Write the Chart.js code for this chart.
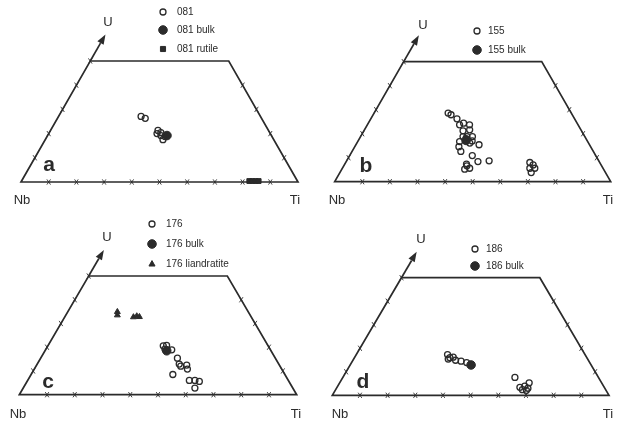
<!DOCTYPE html>
<html lang="en">
<head>
<meta charset="UTF-8">
<title>U - Nb - Ti</title>
<style>
  body { margin: 0; background: #fff; }
  canvas { position: absolute; }
</style>
</head>
<body>
<canvas id="pa" width="313" height="212" style="left:0;top:0"></canvas>
<canvas id="pb" width="314" height="212" style="left:313px;top:0"></canvas>
<canvas id="pc" width="313" height="213" style="left:0;top:212px"></canvas>
<canvas id="pd" width="314" height="213" style="left:313px;top:212px"></canvas>

<script src="https://cdn.jsdelivr.net/npm/chart.js"></script>
<script>
// compositions in percent: U and Ti (Nb is the rest)
const s081U = [27.1, 26.3, 21.3, 20.4, 20.0, 19.2, 17.5, 18.8];
const s081Ti = [29.8, 31.7, 38.8, 40.3, 39.1, 40.9, 42.5, 42.6];
const s081BulkU = [19.2];
const s081BulkTi = [43.1];
const s081RutileU = [0.4, 0.4, 0.4, 0.4];
const s081RutileTi = [82.2, 83.3, 84.5, 85.6];

const s155U = [28.6, 27.9, 26.2, 23.7, 24.4, 23.7, 21.6, 21.2, 18.8, 18.8, 18.8, 17.9, 17.0, 16.7, 16.1, 14.6, 15.4, 12.6, 10.9, 8.4, 8.7, 7.3, 6.6, 5.2, 5.6, 8.0, 7.0, 5.6, 5.6, 3.8];
const s155Ti = [26.8, 28.2, 31.2, 33.4, 34.5, 37.0, 38.1, 35.9, 37.1, 38.5, 40.5, 38.6, 41.3, 36.9, 40.9, 37.7, 44.6, 39.4, 44.4, 47.7, 51.6, 44.1, 44.6, 44.5, 46.1, 66.7, 68.4, 67.9, 69.7, 69.3];
const s155BulkU = [17.2];
const s155BulkTi = [39.0];

const s176U = [20.6, 20.8, 19.2, 18.9, 15.4, 12.9, 12.0, 12.5, 10.8, 8.5, 6.0, 6.0, 5.6, 2.8];
const s176Ti = [41.6, 42.7, 42.9, 45.5, 49.3, 51.2, 52.2, 54.1, 55.2, 51.1, 58.3, 60.3, 62.1, 61.9];
const s176BulkU = [18.5];
const s176BulkTi = [43.9];
const s176LiandU = [34.9, 33.5, 32.7, 33.1, 32.8];
const s176LiandTi = [17.9, 18.6, 24.8, 25.8, 26.9];

const s186U = [17.3, 16.0, 15.4, 16.2, 14.9, 14.5, 13.9, 7.6, 5.3, 3.9, 3.4, 3.0, 2.4, 2.1];
const s186Ti = [33.0, 34.5, 34.2, 35.6, 37.1, 39.3, 41.6, 62.2, 68.5, 67.6, 66.1, 69.2, 67.5, 69.1];
const s186BulkU = [12.9];
const s186BulkTi = [43.7];

const baseTicks = [10, 20, 30, 40, 50, 60, 70, 80, 90];
const sideTicks = [10, 20, 30, 40, 50];

const SQ = Math.sqrt(3) / 2;
const INK = '#2b2b2b';
const FONT = '"Liberation Sans", Arial, sans-serif';

// ternary -> cartesian (base Nb..Ti = 0..1)
function tern(u, ti) {
  return { x: (ti + u / 2) / 100, y: u / 100 * SQ };
}
function pts(us, tis) {
  return us.map((u, i) => tern(u, tis[i]));
}

const styles = {
  open: { pointStyle: 'circle', pointRadius: 3, backgroundColor: 'rgba(0,0,0,0)', borderColor: INK, borderWidth: 1.3 },
  bulk: { pointStyle: 'circle', pointRadius: 4.3, backgroundColor: INK, borderColor: INK, borderWidth: 1 },
  rect: { pointStyle: 'rect', pointRadius: 3.4, backgroundColor: INK, borderColor: INK, borderWidth: 1 },
  tri: { pointStyle: 'triangle', pointRadius: 3.4, backgroundColor: INK, borderColor: INK, borderWidth: 1 }
};

function ds(label, style, us, tis) {
  const s = styles[style];
  return {
    label: label,
    data: pts(us, tis),
    pointStyle: s.pointStyle,
    pointRadius: s.pointRadius,
    pointBackgroundColor: s.backgroundColor,
    pointBorderColor: s.borderColor,
    pointBorderWidth: s.borderWidth,
    showLine: false,
    clip: false,
    legendStyle: style
  };
}

function drawMarker(ctx, style, x, y) {
  const s = styles[style];
  ctx.fillStyle = s.backgroundColor;
  ctx.strokeStyle = s.borderColor;
  ctx.lineWidth = s.borderWidth;
  const r = s.pointRadius;
  ctx.beginPath();
  if (style === 'rect') {
    ctx.rect(x - r * 0.75, y - r * 0.75, r * 1.5, r * 1.5);
  } else if (style === 'tri') {
    ctx.moveTo(x, y - r);
    ctx.lineTo(x + r * 0.9, y + r * 0.6);
    ctx.lineTo(x - r * 0.9, y + r * 0.6);
    ctx.closePath();
  } else {
    ctx.arc(x, y, r, 0, Math.PI * 2);
  }
  ctx.fill();
  ctx.stroke();
}

const ternFrame = {
  id: 'ternFrame',
  beforeDatasetsDraw(chart, args, opts) {
    const ctx = chart.ctx, sx = chart.scales.x, sy = chart.scales.y;
    const P = (u, ti) => {
      const p = tern(u, ti);
      return [sx.getPixelForValue(p.x), sy.getPixelForValue(p.y)];
    };
    ctx.save();
    ctx.strokeStyle = INK;
    ctx.lineWidth = 1.7;
    const c = [P(0, 0), P(0, 100), P(50, 50), P(50, 0)];
    ctx.beginPath();
    ctx.moveTo(c[0][0], c[0][1]);
    c.slice(1).forEach(q => ctx.lineTo(q[0], q[1]));
    ctx.closePath();
    ctx.stroke();

    // tick marks
    const marks = [];
    baseTicks.forEach(t => marks.push(P(0, t)));
    sideTicks.forEach(u => {
      marks.push(P(u, 0));
      if (u < 50) marks.push(P(u, 100 - u));
    });
    ctx.lineWidth = 0.9;
    marks.forEach(([x, y]) => {
      ctx.beginPath();
      ctx.moveTo(x - 1.8, y - 2.6);
      ctx.lineTo(x + 1.8, y + 2.6);
      ctx.moveTo(x + 1.8, y - 2.6);
      ctx.lineTo(x - 1.8, y + 2.6);
      ctx.stroke();
    });

    // U arrow
    const a0 = P(50, 0), a1 = P(61, 0);
    const dx = a1[0] - a0[0], dy = a1[1] - a0[1];
    const len = Math.hypot(dx, dy);
    const ux = dx / len, uy = dy / len;
    const bx = a1[0] - ux * 10, by = a1[1] - uy * 10;
    ctx.lineWidth = 1.7;
    ctx.beginPath();
    ctx.moveTo(a0[0], a0[1]);
    ctx.lineTo(bx, by);
    ctx.stroke();
    ctx.fillStyle = INK;
    ctx.beginPath();
    ctx.moveTo(a1[0], a1[1]);
    ctx.lineTo(bx - uy * 3.6, by + ux * 3.6);
    ctx.lineTo(bx + uy * 3.6, by - ux * 3.6);
    ctx.closePath();
    ctx.fill();
    ctx.restore();
  },
  afterDraw(chart, args, opts) {
    const ctx = chart.ctx;
    ctx.save();
    ctx.fillStyle = INK;
    ctx.textAlign = 'center';
    ctx.textBaseline = 'middle';
    ctx.font = '13px ' + FONT;
    ctx.fillText('U', opts.u[0], opts.u[1]);
    ctx.fillText('Nb', opts.nb[0], opts.nb[1]);
    ctx.fillText('Ti', opts.ti[0], opts.ti[1]);
    ctx.font = 'bold 21px ' + FONT;
    ctx.fillText(opts.letter, opts.let[0], opts.let[1]);

    ctx.font = '10px ' + FONT;
    ctx.textAlign = 'left';
    chart.data.datasets.forEach((d, i) => {
      const y = opts.rows[i];
      drawMarker(ctx, d.legendStyle, opts.mx, y);
      ctx.fillStyle = INK;
      ctx.fillText(d.label, opts.tx, y + 0.5);
    });
    ctx.restore();
  }
};

function makePanel(id, pad, frame, datasets) {
  new Chart(document.getElementById(id), {
    type: 'scatter',
    data: { datasets: datasets },
    options: {
      responsive: false,
      animation: false,
      events: [],
      layout: { padding: pad },
      scales: {
        x: { type: 'linear', min: 0, max: 1, display: false },
        y: { type: 'linear', min: 0, max: SQ / 2, display: false }
      },
      plugins: {
        legend: { display: false },
        tooltip: { enabled: false },
        ternFrame: frame
      }
    },
    plugins: [ternFrame]
  });
}

makePanel('pa', { left: 21, right: 15, top: 61, bottom: 30 },
  { letter: 'a', u: [108, 22], nb: [22, 200], ti: [295, 200], let: [49, 165], mx: 163, tx: 177, rows: [12, 30, 49] },
  [ds('081', 'open', s081U, s081Ti),
   ds('081 bulk', 'bulk', s081BulkU, s081BulkTi),
   ds('081 rutile', 'rect', s081RutileU, s081RutileTi)]);

makePanel('pb', { left: 21.7, right: 16.3, top: 61.7, bottom: 30.3 },
  { letter: 'b', u: [110, 25], nb: [24, 200], ti: [295, 200], let: [53, 166], mx: 164, tx: 175, rows: [31, 50] },
  [ds('155', 'open', s155U, s155Ti),
   ds('155 bulk', 'bulk', s155BulkU, s155BulkTi)]);

makePanel('pc', { left: 19.3, right: 16.3, top: 64, bottom: 30.3 },
  { letter: 'c', u: [107, 25], nb: [18, 202], ti: [296, 202], let: [48, 170], mx: 152, tx: 166, rows: [12, 32, 52] },
  [ds('176', 'open', s176U, s176Ti),
   ds('176 bulk', 'bulk', s176BulkU, s176BulkTi),
   ds('176 liandratite', 'tri', s176LiandU, s176LiandTi)]);

makePanel('pd', { left: 19.3, right: 18, top: 65.7, bottom: 29.7 },
  { letter: 'd', u: [108, 27], nb: [27, 202], ti: [295, 202], let: [50, 170], mx: 162, tx: 173, rows: [37, 54] },
  [ds('186', 'open', s186U, s186Ti),
   ds('186 bulk', 'bulk', s186BulkU, s186BulkTi)]);
</script>
</body>
</html>
